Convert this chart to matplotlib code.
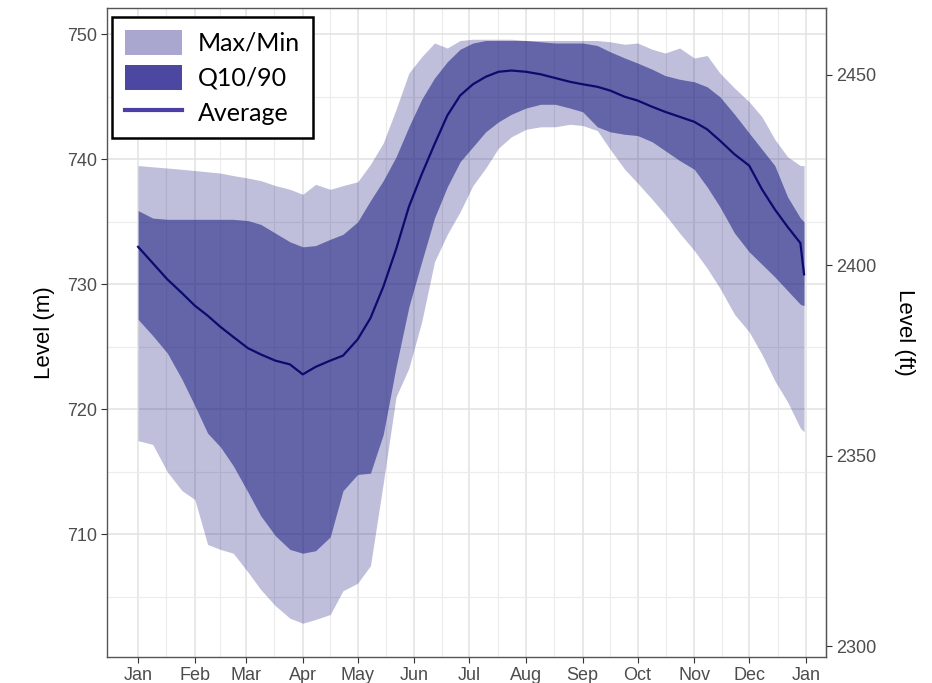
import matplotlib
matplotlib.use("Agg")
import matplotlib.pyplot as plt
from matplotlib.patches import Patch
from matplotlib.lines import Line2D

# day of year (Jan 1 = 0) and reservoir level in metres
days = [0, 8, 16, 24, 31, 38, 45, 52, 60, 67, 75, 83, 90, 97, 105, 112,
        120, 127, 134, 141, 148, 155, 162, 169, 176, 183, 190, 197, 204,
        212, 220, 228, 236, 243, 251, 258, 266, 273, 281, 288, 296, 304,
        311, 318, 326, 334, 341, 348, 355, 362, 364]

level_max = [739.5, 739.4, 739.3, 739.2, 739.1, 739.0, 738.9, 738.7, 738.5,
             738.3, 737.9, 737.6, 737.2, 738.0, 737.6, 737.9, 738.2, 739.6,
             741.3, 744.0, 746.9, 748.2, 749.3, 748.9, 749.5, 749.6, 749.6,
             749.6, 749.6, 749.5, 749.5, 749.5, 749.5, 749.5, 749.5, 749.4,
             749.2, 749.3, 748.8, 748.5, 748.9, 748.1, 748.3, 746.9, 745.7,
             744.6, 743.4, 741.6, 740.2, 739.5, 739.5]

level_q90 = [735.9, 735.3, 735.2, 735.2, 735.2, 735.2, 735.2, 735.2, 735.1,
             734.8, 734.1, 733.4, 733.0, 733.1, 733.6, 734.0, 735.0, 736.7,
             738.3, 740.2, 742.6, 744.8, 746.5, 747.8, 748.8, 749.3, 749.5,
             749.5, 749.5, 749.5, 749.4, 749.3, 749.3, 749.3, 749.1, 748.6,
             748.1, 747.7, 747.2, 746.7, 746.4, 746.2, 745.8, 745.0, 743.6,
             742.1, 740.8, 739.5, 737.0, 735.3, 735.0]

level_mean = [733.0, 731.7, 730.4, 729.3, 728.3, 727.5, 726.6, 725.8, 724.9,
              724.4, 723.9, 723.6, 722.8, 723.4, 723.9, 724.3, 725.6, 727.3,
              729.8, 732.8, 736.2, 738.8, 741.2, 743.5, 745.1, 746.0, 746.6,
              747.0, 747.1, 747.0, 746.8, 746.5, 746.2, 746.0, 745.8, 745.5,
              745.0, 744.7, 744.2, 743.8, 743.4, 743.0, 742.4, 741.5, 740.4,
              739.5, 737.6, 736.0, 734.6, 733.3, 730.8]

level_q10 = [727.2, 725.9, 724.5, 722.4, 720.3, 718.1, 717.0, 715.5, 713.4,
             711.5, 709.9, 708.8, 708.5, 708.7, 709.8, 713.5, 714.8, 714.9,
             718.0, 723.4, 728.2, 731.8, 735.3, 737.8, 739.8, 741.0, 742.2,
             743.0, 743.6, 744.1, 744.4, 744.4, 744.1, 743.8, 742.6, 742.2,
             742.0, 741.9, 741.4, 740.7, 739.9, 739.2, 737.8, 736.2, 734.1,
             732.6, 731.6, 730.6, 729.5, 728.4, 728.3]

level_min = [717.5, 717.2, 715.0, 713.5, 712.8, 709.2, 708.8, 708.5, 707.0,
             705.6, 704.3, 703.3, 702.9, 703.2, 703.6, 705.5, 706.1, 707.5,
             714.1, 721.0, 723.3, 727.0, 731.8, 734.0, 735.8, 737.9, 739.3,
             740.9, 741.8, 742.4, 742.6, 742.6, 742.8, 742.7, 742.3, 740.8,
             739.2, 738.1, 736.8, 735.6, 734.1, 732.7, 731.3, 729.7, 727.6,
             726.2, 724.4, 722.3, 720.6, 718.5, 718.2]

month_starts = [0, 31, 59, 90, 120, 151, 181, 212, 243, 273, 304, 334, 365]
month_labels = ["Jan", "Feb", "Mar", "Apr", "May", "Jun", "Jul", "Aug",
                "Sep", "Oct", "Nov", "Dec", "Jan"]
m_ticks = [710, 720, 730, 740, 750]
ft_ticks = [2300, 2350, 2400, 2450]

plt.rcParams["font.family"] = ["Liberation Sans", "DejaVu Sans"]

fig = plt.figure(figsize=(9.32, 6.83), dpi=100)
ax = fig.add_axes([107 / 932, 1 - 657 / 683, 719 / 932, 649 / 683])

ax.fill_between(days, level_min, level_max, color="#1a1a80", alpha=0.28, lw=0)
ax.fill_between(days, level_q10, level_q90, color="#1a1a80", alpha=0.55, lw=0)
ax.plot(days, level_mean, color="#0b0b6e", lw=1.6)

ax.set_xlim(-17, 376)
ax.set_ylim(700.2, 752.1)

ax.set_xticks(month_starts)
ax.set_xticklabels(month_labels)
mids = [(a + b) / 2 for a, b in zip(month_starts[:-1], month_starts[1:])]
ax.set_xticks(mids, minor=True)
ax.set_yticks(m_ticks)
ax.set_yticks([705, 715, 725, 735, 745], minor=True)

ax.set_axisbelow(True)
ax.grid(which="major", color="#e2e2e2", lw=1.1)
ax.grid(which="minor", color="#ececec", lw=0.8)

for s in ax.spines.values():
    s.set_color("#555555")
    s.set_linewidth(1.0)
ax.tick_params(which="major", length=4, color="#333333", pad=3,
               labelcolor="#4d4d4d", labelsize=13)
ax.tick_params(which="minor", length=0)
ax.set_ylabel("Level (m)", fontsize=16, labelpad=9)

secax = ax.secondary_yaxis("right", functions=(lambda m: m / 0.3048,
                                               lambda f: f * 0.3048))
secax.set_yticks(ft_ticks)
secax.tick_params(length=4, color="#333333", pad=3, labelcolor="#4d4d4d",
                  labelsize=13)
secax.spines["right"].set_color("#555555")
secax.set_ylabel("Level (ft)", fontsize=16, rotation=270, labelpad=28)

handles = [Patch(facecolor="#a9a6cf", edgecolor="none"),
           Patch(facecolor="#4c47a0", edgecolor="none"),
           Line2D([], [], color="#4b3fa6", lw=3)]
leg = ax.legend(handles, ["Max/Min", "Q10/90", "Average"], loc="upper left",
                bbox_to_anchor=(5 / 719, 1 - 9 / 649), borderaxespad=0,
                fancybox=False, framealpha=1, edgecolor="black",
                prop={"family": ["Lato", "DejaVu Sans"], "size": 18},
                handlelength=2.3, handleheight=1.2, labelspacing=0.38,
                handletextpad=0.65, borderpad=0.5)
leg.get_frame().set_linewidth(1.8)

fig.savefig("out.png", dpi=100)
